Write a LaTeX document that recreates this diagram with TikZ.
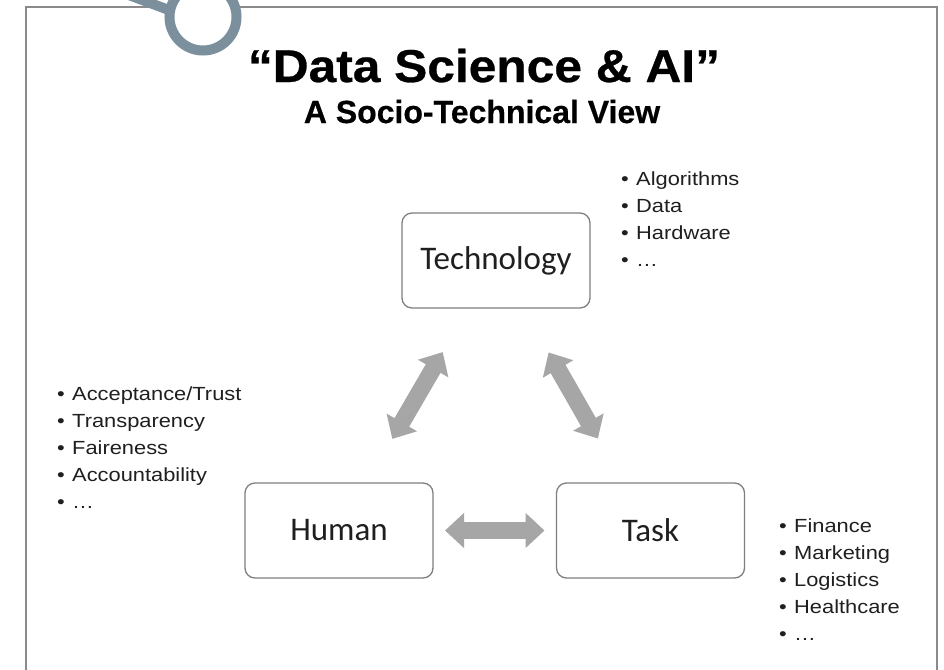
\documentclass[tikz,border=0pt]{standalone}
\usepackage{fontspec}
\usetikzlibrary{arrows.meta}
\setmainfont{Liberation Sans}
\newfontfamily\titlefont[FakeStretch=1.08, BoldFeatures={FakeBold=0.6}]{Liberation Sans}
\newfontfamily\subtitlefont[BoldFeatures={FakeBold=0.5}]{Liberation Sans}
\newfontfamily\listfont[FakeStretch=1.15]{Liberation Sans}
\newfontfamily\boxfont{Carlito}
\definecolor{framegray}{HTML}{8A8A8A}
\definecolor{ringblue}{HTML}{7B909C}
\definecolor{arrowgray}{HTML}{A6A6A6}
\definecolor{boxline}{HTML}{7F7F7F}
\newcommand{\itm}[1]{\makebox[15pt][l]{•}#1}
\tikzset{
  concept/.style={draw=boxline, line width=1.3pt, rounded corners=10pt, fill=white,
    minimum width=188pt, minimum height=95pt, inner sep=0pt,
    font=\boxfont\fontsize{33}{38}\selectfont, text=black!88},
  linkarrow/.style={draw=arrowgray, line width=17pt,
    {Triangle[width=34pt,length=19pt]}-{Triangle[width=34pt,length=19pt]},
    shorten <=106pt, shorten >=106pt},
  bullets/.style={anchor=base west, inner sep=0pt, text=black!88,
    font=\listfont\fontsize{19}{27}\selectfont}
}
\begin{document}
\begin{tikzpicture}[x=1pt, y=-1pt]
\clip (0,0) rectangle (944,669);
\fill[white] (0,0) rectangle (944,669);

% slide frame, open at the bottom
\draw[framegray, line width=1.2pt] (26,700) -- (26,7) -- (937,7) -- (937,700);

% lens-shaped ornament in the top corner
\draw[ringblue, line width=10pt] (190,18) -- (105,-14);
\draw[ringblue, line width=10pt, fill=white] (203,17) circle[radius=33.5];

% headings
\node[anchor=base, inner sep=0pt, font=\titlefont\bfseries\fontsize{46}{50}\selectfont]
  (title) at (484,82) {“Data Science \& AI”};
\node[anchor=base, inner sep=0pt, font=\subtitlefont\bfseries\fontsize{32}{36}\selectfont]
  (subtitle) at (482,123) {A Socio-Technical View};

% the three elements
\node[concept] (tech)  at (496,260.5)   {Technology};
\node[concept] (human) at (339,530.5)   {Human};
\node[concept] (task)  at (650.5,530.5) {Task};

% mutual relations
\draw[linkarrow] (tech.center) -- (human.center);
\draw[linkarrow] (tech.center) -- (task.center);
\draw[linkarrow] (human.center) -- (task.center);

% aspects of each element
\node[bullets] (techlist) at (621,185.7) {%
  \begin{tabular}[t]{@{}l@{}}
  \itm{Algorithms}\\ \itm{Data}\\ \itm{Hardware}\\ \itm{…}
  \end{tabular}};
\node[bullets] (humanlist) at (57,400) {%
  \begin{tabular}[t]{@{}l@{}}
  \itm{Acceptance/Trust}\\ \itm{Transparency}\\ \itm{Faireness}\\ \itm{Accountability}\\ \itm{…}
  \end{tabular}};
\node[bullets] (tasklist) at (779,532) {%
  \begin{tabular}[t]{@{}l@{}}
  \itm{Finance}\\ \itm{Marketing}\\ \itm{Logistics}\\ \itm{Healthcare}\\ \itm{…}
  \end{tabular}};
\end{tikzpicture}
\end{document}
